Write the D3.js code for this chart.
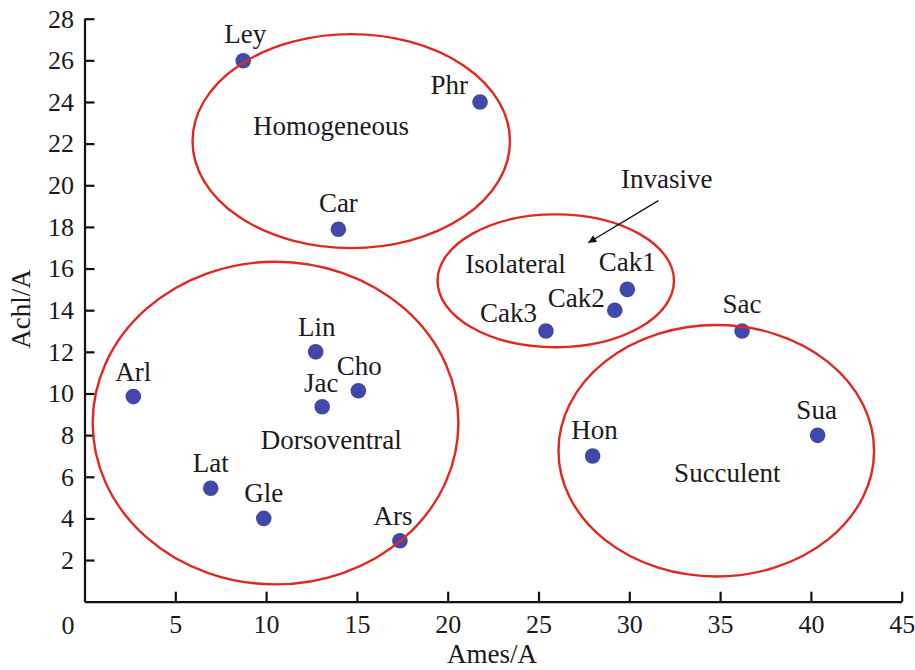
<!DOCTYPE html>
<html>
<head>
<meta charset="utf-8">
<script src="https://cdn.jsdelivr.net/npm/d3@7"></script>
<style>
  html, body { margin: 0; padding: 0; background: #fff; }
  svg text { font-family: "Liberation Serif", "Times New Roman", serif; fill: #1a1a1a; }
</style>
</head>
<body>
<svg id="chart" width="915" height="670"></svg>
<script>
// ---- data ----
const names = ["Ley","Phr","Car","Arl","Lin","Cho","Jac","Lat","Gle","Ars","Cak1","Cak2","Cak3","Sac","Sua","Hon"];
const amesValues = [8.74, 21.78, 13.98, 2.69, 12.73, 15.08, 13.09, 6.95, 9.87, 17.37, 29.89, 29.2, 25.41, 36.21, 40.37, 27.98];
const achlValues = [25.98, 24.0, 17.89, 9.85, 12.0, 10.13, 9.36, 5.45, 4.0, 2.93, 15.0, 14.0, 13.0, 13.0, 7.99, 7.0];

const xTicks = [5, 10, 15, 20, 25, 30, 35, 40, 45];
const yTicks = [2, 4, 6, 8, 10, 12, 14, 16, 18, 20, 22, 24, 26, 28];
const originLabel = "0";

// groups (ellipses in data units)
const groupNames = ["Homogeneous", "Dorsoventral", "Isolateral", "Succulent"];
const groupCx = [14.69, 10.52, 25.95, 34.79];
const groupCy = [22.12, 8.58, 15.41, 7.25];
const groupRx = [8.74, 10.07, 6.51, 8.69];
const groupRy = [5.14, 7.75, 3.19, 6.04];
const groupLabelX = [13.57, 13.59, 23.73, 35.4];
const groupLabelY = [22.42, 7.33, 15.77, 5.76];

// annotation
const annotText = "Invasive";
const annotPos = [32.06, 19.86];
const arrowFrom = [31.6, 19.26];
const arrowTo = [27.74, 17.24];

// label layout (pixel offsets from point)
const labelAnchor = ["middle","end","middle","middle","middle","middle","middle","middle","middle","middle","middle","end","end","middle","middle","middle"];
const labelDx = [2, -12, 0, 0, 1, 1, -1, 0, 0, -7, 0, -10, -9, 0, -1, 2];
const labelDy = [-18, -8, -17, -16, -16, -16, -15, -16, -16, -16, -18, -3, -9, -18, -16, -17];

// ---- chart ----
const svg = d3.select("#chart");
const x = d3.scaleLinear().domain([0, 45]).range([84.5, 901.7]);
const y = d3.scaleLinear().domain([0, 28]).range([601.7, 18.7]);
const FS = 26;   // tick labels
const LFS = 27;  // other text

const xAxis = d3.axisBottom(x).tickValues(xTicks).tickSizeInner(-10).tickSizeOuter(0).tickPadding(13.3).tickFormat(d3.format("d"));
const yAxis = d3.axisLeft(y).tickValues(yTicks).tickSizeInner(-10).tickSizeOuter(0).tickPadding(10.5).tickFormat(d3.format("d"));

const gx = svg.append("g").attr("transform", `translate(0,${y(0)})`).call(xAxis);
const gy = svg.append("g").attr("transform", `translate(${x(0)},0)`).call(yAxis);
[gx, gy].forEach(g => {
  g.select(".domain").attr("stroke", "#111").attr("stroke-width", 2.2);
  g.selectAll(".tick line").attr("stroke", "#111").attr("stroke-width", 2.2);
  g.selectAll(".tick text").attr("font-size", FS).attr("font-family", "Liberation Serif, serif").attr("fill", "#1a1a1a");
});

svg.append("text").attr("x", x(0) - 10).attr("y", y(0) + 31.8)
  .attr("text-anchor", "end").attr("font-size", FS).text(originLabel);

// axis titles
svg.append("text").attr("x", x(22.5) - 1).attr("y", 663.3)
  .attr("text-anchor", "middle").attr("font-size", LFS).text("Ames/A");
svg.append("text").attr("transform", `translate(30,309) rotate(-90)`)
  .attr("text-anchor", "middle").attr("font-size", LFS).text("Achl/A");

// points
const pts = names.map((n, i) => ({n, x: amesValues[i], y: achlValues[i], a: labelAnchor[i], dx: labelDx[i], dy: labelDy[i]}));
svg.append("g").selectAll("circle").data(pts).join("circle")
  .attr("cx", d => x(d.x)).attr("cy", d => y(d.y)).attr("r", 7.8)
  .attr("fill", "#4048aa");

svg.append("g").selectAll("text").data(pts).join("text")
  .attr("x", d => x(d.x) + d.dx).attr("y", d => y(d.y) + d.dy)
  .attr("text-anchor", d => d.a).attr("font-size", LFS).text(d => d.n);

// ellipses
const groups = groupNames.map((n, i) => ({n, cx: groupCx[i], cy: groupCy[i], rx: groupRx[i], ry: groupRy[i], lx: groupLabelX[i], ly: groupLabelY[i]}));
svg.append("g").selectAll("ellipse").data(groups).join("ellipse")
  .attr("cx", d => x(d.cx)).attr("cy", d => y(d.cy))
  .attr("rx", d => x(d.rx) - x(0)).attr("ry", d => y(0) - y(d.ry))
  .attr("fill", "none").attr("stroke", "#e0281e").attr("stroke-width", 2.4);

svg.append("g").selectAll("text").data(groups).join("text")
  .attr("x", d => x(d.lx)).attr("y", d => y(d.ly))
  .attr("text-anchor", "middle").attr("font-size", LFS).text(d => d.n);

// annotation arrow
svg.append("defs").append("marker").attr("id", "ah")
  .attr("viewBox", "0 0 10 10").attr("refX", 10).attr("refY", 5)
  .attr("markerWidth", 10).attr("markerHeight", 8).attr("markerUnits", "userSpaceOnUse")
  .attr("orient", "auto")
  .append("path").attr("d", "M0,0L10,5L0,10z").attr("fill", "#111");
svg.append("line")
  .attr("x1", x(arrowFrom[0])).attr("y1", y(arrowFrom[1]))
  .attr("x2", x(arrowTo[0])).attr("y2", y(arrowTo[1]))
  .attr("stroke", "#111").attr("stroke-width", 1.3).attr("marker-end", "url(#ah)");
svg.append("text").attr("x", x(annotPos[0])).attr("y", y(annotPos[1]))
  .attr("text-anchor", "middle").attr("font-size", LFS).text(annotText);
</script>
</body>
</html>
